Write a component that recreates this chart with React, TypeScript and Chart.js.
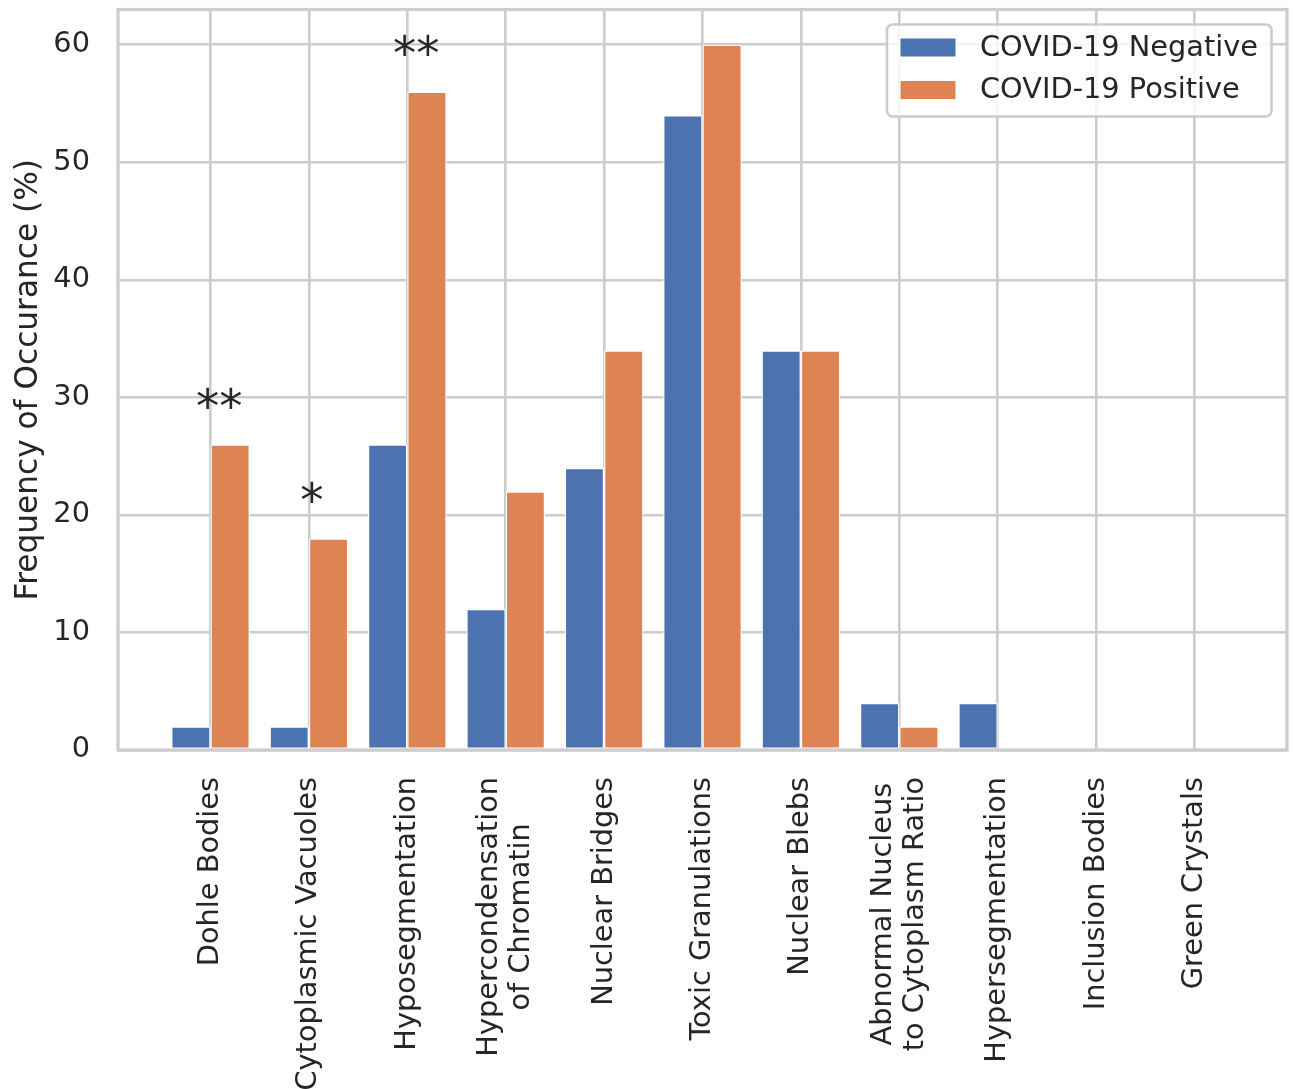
import React, { useEffect, useRef } from 'react';
import { Chart, registerables } from 'chart.js';

Chart.register(...registerables);

const categories: string[][] = [
  ['Dohle Bodies'],
  ['Cytoplasmic Vacuoles'],
  ['Hyposegmentation'],
  ['Hypercondensation', 'of Chromatin'],
  ['Nuclear Bridges'],
  ['Toxic Granulations'],
  ['Nuclear Blebs'],
  ['Abnormal Nucleus', 'to Cytoplasm Ratio'],
  ['Hypersegmentation'],
  ['Inclusion Bodies'],
  ['Green Crystals'],
];
const negativeValues = [2, 2, 26, 12, 24, 54, 34, 4, 4, 0, 0];
const positiveValues = [26, 18, 56, 22, 34, 60, 34, 2, 0, 0, 0];
const seriesLabels = ['COVID-19 Negative', 'COVID-19 Positive'];
const yTicks = [0, 10, 20, 30, 40, 50, 60];
const yTitle = 'Frequency of Occurance (%)';
const significanceMarks = ['**', '*', '**'];
const significanceX = [0.09, 1.03, 2.09];
const significanceY = [30, 22, 60];

const FONT = '"DejaVu Sans", sans-serif';
const TEXT = '#262626';
const GRID = '#cccccc';
const BLUE = '#4C72B0';
const ORANGE = '#DD8452';
const TICK_SIZE = 28.8;

const zeroPad = (s: any) => {
  s.paddingTop = 0;
  s.paddingBottom = 0;
  s.paddingLeft = 0;
  s.paddingRight = 0;
};

const overlay = {
  id: 'overlay',
  afterDatasetsDraw(chart: any) {
    const { ctx, chartArea: a } = chart;
    ctx.save();
    ctx.strokeStyle = GRID;
    ctx.lineWidth = 3.2;
    ctx.strokeRect(a.left, a.top, a.right - a.left, a.bottom - a.top);
    ctx.restore();
  },
  afterDraw(chart: any) {
    const { ctx, chartArea: a } = chart;
    const xs = chart.scales.x;
    const ys = chart.scales.y;
    ctx.save();
    ctx.fillStyle = TEXT;

    // category labels
    ctx.font = `${TICK_SIZE}px ${FONT}`;
    categories.forEach((lines, i) => {
      const px = xs.getPixelForValue(i);
      const maxW = Math.max(...lines.map((l) => ctx.measureText(l).width));
      ctx.save();
      ctx.translate(px, a.bottom + 27);
      ctx.rotate(-Math.PI / 2);
      ctx.textAlign = 'center';
      ctx.textBaseline = 'middle';
      lines.forEach((l, j) => {
        ctx.fillText(l, -maxW / 2, (j - (lines.length - 1) / 2) * 32);
      });
      ctx.restore();
    });

    // y title
    ctx.save();
    ctx.font = `31.2px ${FONT}`;
    ctx.translate(29, (a.top + a.bottom) / 2);
    ctx.rotate(-Math.PI / 2);
    ctx.textAlign = 'center';
    ctx.textBaseline = 'middle';
    ctx.fillText(yTitle, 0, 0);
    ctx.restore();

    // significance marks
    ctx.font = `46.5px ${FONT}`;
    ctx.textAlign = 'center';
    ctx.textBaseline = 'alphabetic';
    significanceMarks.forEach((m, k) => {
      const px = xs.getPixelForValue(significanceX[k]);
      const py = ys.getPixelForValue(significanceY[k]);
      ctx.fillText(m, px, py + 24.5);
    });

    // legend
    const lx = 887, ly = 24.5, lw = 384.5, lh = 92, r = 5.7;
    ctx.beginPath();
    ctx.moveTo(lx + r, ly);
    ctx.arcTo(lx + lw, ly, lx + lw, ly + lh, r);
    ctx.arcTo(lx + lw, ly + lh, lx, ly + lh, r);
    ctx.arcTo(lx, ly + lh, lx, ly, r);
    ctx.arcTo(lx, ly, lx + lw, ly, r);
    ctx.closePath();
    ctx.fillStyle = 'rgba(255,255,255,0.8)';
    ctx.fill();
    ctx.strokeStyle = GRID;
    ctx.lineWidth = 2.6;
    ctx.stroke();

    ctx.font = `${TICK_SIZE}px ${FONT}`;
    ctx.textAlign = 'left';
    ctx.textBaseline = 'middle';
    chart.data.datasets.forEach((ds: any, k: number) => {
      const cy = 47.5 + k * 42.5;
      ctx.fillStyle = ds.backgroundColor;
      ctx.fillRect(900, cy - 9.5, 56, 19);
      ctx.strokeStyle = '#ffffff';
      ctx.lineWidth = 1;
      ctx.strokeRect(900, cy - 9.5, 56, 19);
      ctx.fillStyle = TEXT;
      ctx.fillText(ds.label, 980, cy + 1);
    });
    ctx.restore();
  },
};

export default function App() {
  const ref = useRef<HTMLCanvasElement | null>(null);
  useEffect(() => {
    if (!ref.current) return;
    const chart = new Chart(ref.current, {
      type: 'bar',
      data: {
        datasets: [
          {
            label: seriesLabels[0],
            data: negativeValues.map((v, i) => ({ x: i, y: v })),
            backgroundColor: BLUE,
            borderColor: '#ffffff',
            borderWidth: 1.3,
            borderSkipped: false,
          },
          {
            label: seriesLabels[1],
            data: positiveValues.map((v, i) => ({ x: i, y: v })),
            backgroundColor: ORANGE,
            borderColor: '#ffffff',
            borderWidth: 1.3,
            borderSkipped: false,
          },
        ],
      },
      options: {
        responsive: false,
        animation: false,
        events: [],
        categoryPercentage: 0.8,
        barPercentage: 1.0,
        layout: { autoPadding: false, padding: { top: 9.5, right: 6, left: 0, bottom: 0 } },
        plugins: {
          legend: { display: false },
          tooltip: { enabled: false },
          title: { display: false },
        },
        scales: {
          x: {
            type: 'linear',
            min: -0.94,
            max: 10.94,
            offset: false,
            grid: { offset: false, color: GRID, lineWidth: 2.6, drawTicks: false },
            border: { display: false },
            ticks: { display: false },
            afterBuildTicks: (s: any) => {
              s.ticks = categories.map((_, i) => ({ value: i }));
            },
            afterFit: (s: any) => {
              s.height = 339;
              zeroPad(s);
            },
          },
          y: {
            type: 'linear',
            min: 0,
            max: 63,
            grid: { color: GRID, lineWidth: 2.6, drawTicks: false },
            border: { display: false },
            ticks: {
              padding: 28,
              color: TEXT,
              font: { family: 'DejaVu Sans', size: TICK_SIZE },
            },
            afterBuildTicks: (s: any) => {
              s.ticks = yTicks.map((v) => ({ value: v }));
            },
            afterFit: (s: any) => {
              s.width = 118;
              zeroPad(s);
            },
          },
        },
      } as any,
      plugins: [overlay],
    });
    return () => chart.destroy();
  }, []);
  return (
    <div style={{ position: 'fixed', left: 0, top: 0, width: 1293, height: 1089, background: '#fff' }}>
      <canvas ref={ref} width={1293} height={1089} />
    </div>
  );
}
